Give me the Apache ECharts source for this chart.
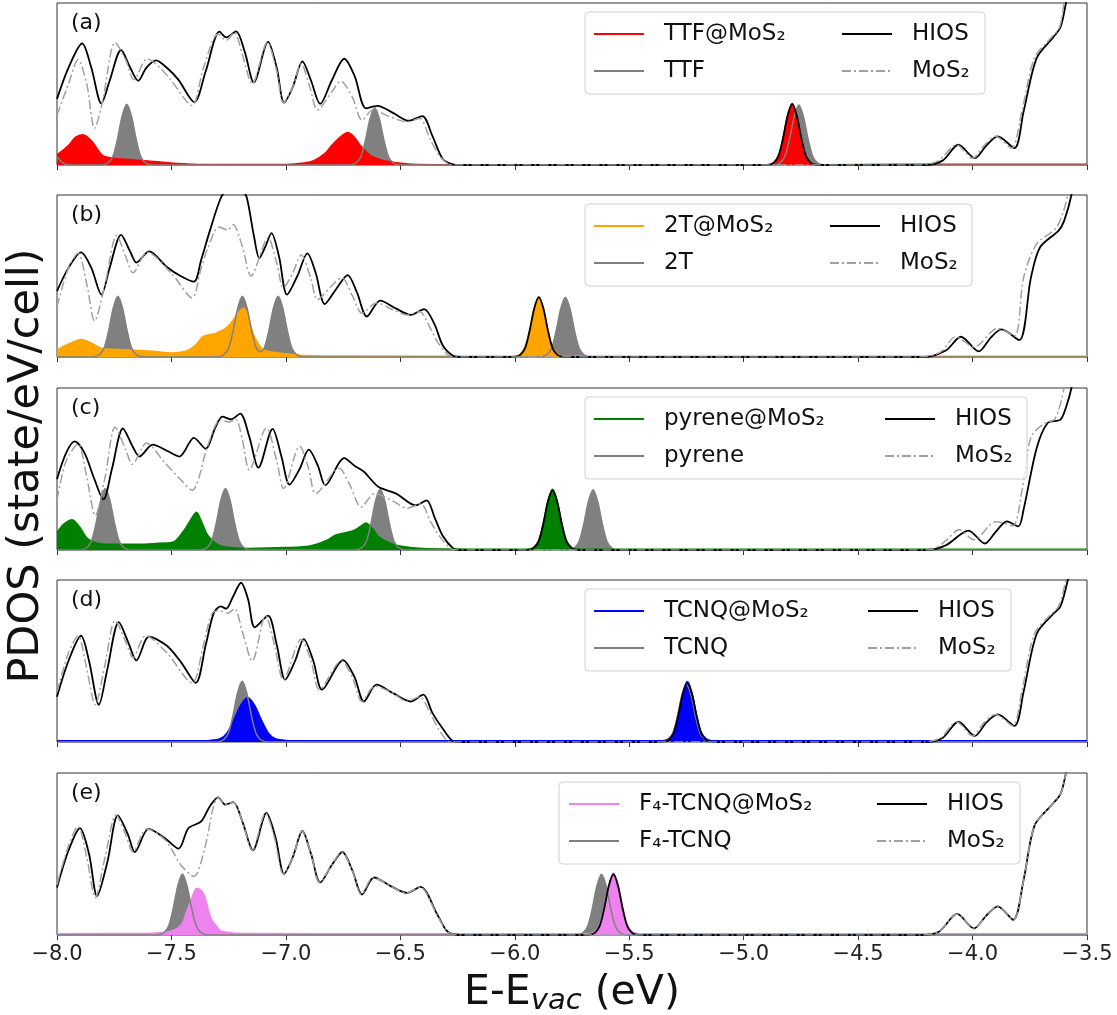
<!DOCTYPE html>
<html>
<head>
<meta charset="utf-8">
<script src="https://cdn.jsdelivr.net/npm/echarts@6/dist/echarts.min.js"></script>
<style>
html,body{margin:0;padding:0;background:#fff;}
#chart{width:1117px;height:1015px;}
</style>
</head>
<body>
<div id="chart"></div>
<script>
// ---------- labels ----------
const panelLabels = ['(a)', '(b)', '(c)', '(d)', '(e)'];
const molNames = ['TTF', '2T', 'pyrene', 'TCNQ', 'F\u2084-TCNQ'];
const hiosName = 'HIOS';
const mos2Name = 'MoS\u2082';
const xTickValues = [-8.0, -7.5, -7.0, -6.5, -6.0, -5.5, -5.0, -4.5, -4.0, -3.5];

// ---------- panel (a): TTF ----------
const hiosA = [[-8.00,40.8],[-7.95,60],[-7.89,75],[-7.85,60],[-7.806,38],[-7.77,52],[-7.72,71],[-7.68,60],[-7.645,52],[-7.61,60],[-7.567,64.6],[-7.52,60],[-7.47,52.7],[-7.40,38.8],[-7.35,58],[-7.29,82.3],[-7.26,78.8],[-7.218,82.5],[-7.18,70],[-7.14,51],[-7.078,76],[-7.04,60],[-7.008,38.5],[-6.97,48],[-6.928,64],[-6.89,52],[-6.85,37.7],[-6.80,52],[-6.745,65.6],[-6.70,55],[-6.65,35],[-6.60,36.5],[-6.53,32],[-6.463,27.3],[-6.404,30.2],[-6.36,18],[-6.315,3.75],[-6.275,0.6],[-6.24,0],[-4.92,0],[-4.888,0.2],[-4.868,1.5],[-4.848,5.6],[-4.828,16.5],[-4.808,30.4],[-4.788,37.8],[-4.768,30.4],[-4.748,16.5],[-4.728,5.6],[-4.708,1.5],[-4.688,0.2],[-4.65,0],[-4.21,0],[-4.131,2.7],[-4.062,12.5],[-3.99,4.2],[-3.94,12],[-3.89,17.7],[-3.817,10.4],[-3.777,33],[-3.72,66],[-3.648,78.8],[-3.616,85],[-3.592,100],[-3.55,130],[-3.5,170]];
const mos2A = [[-8.0,30.8],[-7.95,50],[-7.908,65],[-7.87,50],[-7.836,22.5],[-7.80,40],[-7.746,75.6],[-7.70,65],[-7.664,52.7],[-7.606,65.6],[-7.55,60],[-7.504,52.7],[-7.41,36.7],[-7.36,60],[-7.296,80.8],[-7.26,77],[-7.226,81.9],[-7.19,68],[-7.147,50],[-7.081,75.6],[-7.04,58],[-7.011,38.5],[-6.97,48],[-6.933,62.5],[-6.895,48],[-6.862,34],[-6.80,45],[-6.761,51.7],[-6.71,42],[-6.667,27.7],[-6.62,34],[-6.55,30],[-6.471,26.7],[-6.416,28.7],[-6.37,16],[-6.33,5.8],[-6.29,0.6],[-6.26,0],[-4.23,0],[-4.15,2.5],[-4.07,12.5],[-4.0,4.2],[-3.95,12],[-3.9,17.7],[-3.83,10.4],[-3.785,33],[-3.73,66],[-3.655,78.8],[-3.62,85],[-3.60,100],[-3.55,135],[-3.5,175]];
const hybA = [[-8.0,6.25],[-7.95,12],[-7.92,17],[-7.887,18.75],[-7.85,15],[-7.80,5.8],[-7.754,4.2],[-7.65,3],[-7.55,1.8],[-7.40,0.5],[-7.0,0.3],[-6.92,1.2],[-6.878,2.7],[-6.83,7],[-6.80,12],[-6.76,17.5],[-6.73,20],[-6.70,17],[-6.675,12],[-6.63,5.8],[-6.58,3],[-6.533,1.7],[-6.45,0.5],[-6.3,0.2],[-4.92,0.1],[-4.888,0.2],[-4.868,1.5],[-4.848,5.6],[-4.828,16.5],[-4.808,30.4],[-4.788,37.5],[-4.768,30.4],[-4.748,16.5],[-4.728,5.6],[-4.708,1.5],[-4.688,0.2],[-4.65,0.1],[-4.3,0.4],[-3.5,0.4]];
const molA = [[-8.0,5],[-7.98,2],[-7.96,0.3],[-7.93,0],[-7.815,0],[-7.795,0.2],[-7.775,1.5],[-7.755,5.6],[-7.735,16.5],[-7.715,30.4],[-7.695,37.5],[-7.675,30.4],[-7.655,16.5],[-7.635,5.6],[-7.615,1.5],[-7.595,0.2],[-7.575,0],[-6.732,0],[-6.712,0.2],[-6.692,1.4],[-6.672,5.3],[-6.652,15.6],[-6.632,28.7],[-6.612,35.4],[-6.592,28.7],[-6.572,15.6],[-6.552,5.3],[-6.532,1.4],[-6.512,0.2],[-6.492,0],[-4.879,0],[-4.859,0.2],[-4.839,1.5],[-4.819,5.6],[-4.799,16.3],[-4.779,30],[-4.759,37],[-4.739,30],[-4.719,16.3],[-4.699,5.6],[-4.679,1.5],[-4.659,0.2],[-4.639,0],[-3.5,0]];

// ---------- panel (b): 2T ----------
const hiosB = [[-8.0,40.6],[-7.95,55],[-7.895,64.6],[-7.85,55],[-7.806,38.5],[-7.77,55],[-7.72,75.4],[-7.68,65],[-7.653,58.3],[-7.598,65.2],[-7.52,55.6],[-7.46,50],[-7.402,46.5],[-7.37,60],[-7.332,78],[-7.285,98],[-7.254,104],[-7.22,106],[-7.19,103],[-7.17,98],[-7.14,75],[-7.116,61],[-7.09,68],[-7.063,76.5],[-7.03,62],[-6.995,38.5],[-6.95,50],[-6.906,64],[-6.87,52],[-6.83,32.7],[-6.78,42],[-6.73,50.6],[-6.69,40],[-6.646,25],[-6.588,34.8],[-6.52,30],[-6.455,26],[-6.396,29.6],[-6.35,20],[-6.315,7.3],[-6.268,0.6],[-6.24,0],[-6.02,0],[-5.995,0.2],[-5.975,1.5],[-5.955,5.5],[-5.935,16.2],[-5.915,29.9],[-5.895,36.9],[-5.875,29.9],[-5.855,16.2],[-5.835,5.5],[-5.815,1.5],[-5.795,0.2],[-5.77,0],[-4.21,0],[-4.115,4.2],[-4.051,12.5],[-3.973,3.5],[-3.92,12],[-3.874,17],[-3.796,10.4],[-3.745,49],[-3.705,67.7],[-3.624,78],[-3.60,84],[-3.568,100],[-3.53,130],[-3.5,155]];
const mos2B = [[-8.0,31],[-7.95,55],[-7.908,64],[-7.87,45],[-7.836,22.3],[-7.79,45],[-7.739,75],[-7.70,62],[-7.668,52],[-7.606,64.6],[-7.496,51],[-7.41,36.5],[-7.37,55],[-7.34,67.7],[-7.293,80.2],[-7.254,78.5],[-7.23,81.7],[-7.19,68],[-7.152,50],[-7.078,73.5],[-7.04,58],[-7.011,42.7],[-6.97,52],[-6.933,63],[-6.89,48],[-6.862,35.4],[-6.80,44],[-6.756,49],[-6.71,38],[-6.667,27],[-6.604,33.3],[-6.53,29],[-6.471,26],[-6.416,28],[-6.37,18],[-6.338,9.4],[-6.29,1],[-6.26,0],[-4.23,0],[-4.14,3],[-4.074,12.5],[-3.994,6.2],[-3.89,17.7],[-3.817,13],[-3.777,49],[-3.72,69.8],[-3.632,80.2],[-3.584,100],[-3.55,130],[-3.5,160]];
const hybB = [[-8.0,4.2],[-7.95,8],[-7.892,10.8],[-7.85,8.5],[-7.80,5.2],[-7.66,4.2],[-7.58,3.5],[-7.504,2.5],[-7.46,3],[-7.426,4.2],[-7.39,8],[-7.363,12.5],[-7.308,14.6],[-7.27,17],[-7.24,21],[-7.21,27],[-7.186,30.2],[-7.165,25],[-7.144,14.6],[-7.12,8],[-7.097,4.2],[-7.003,2],[-6.925,1],[-6.7,0.6],[-6.1,0.5],[-6.02,0.5],[-5.995,0.7],[-5.975,2],[-5.955,6],[-5.935,16.7],[-5.915,30.4],[-5.895,37.4],[-5.875,30.4],[-5.855,16.7],[-5.835,6],[-5.815,2],[-5.795,0.7],[-5.77,0.5],[-3.5,0.5]];
const molB = [[-8.0,0],[-7.854,0],[-7.834,0.2],[-7.814,1.5],[-7.794,5.6],[-7.774,16.5],[-7.754,30.4],[-7.734,37.5],[-7.714,30.4],[-7.694,16.5],[-7.674,5.6],[-7.654,1.5],[-7.634,0.2],[-7.614,0],[-7.31,0],[-7.29,0.2],[-7.27,1.5],[-7.25,5.6],[-7.23,16.5],[-7.21,30.4],[-7.19,37.5],[-7.17,30.4],[-7.15,16.5],[-7.13,5.8],[-7.11,3.2],[-7.094,5.8],[-7.074,16.5],[-7.054,30.4],[-7.034,37.5],[-7.014,30.4],[-6.994,16.5],[-6.974,5.6],[-6.954,1.5],[-6.934,0.2],[-6.914,0],[-5.899,0],[-5.879,0.2],[-5.859,1.5],[-5.839,5.5],[-5.819,16.2],[-5.799,29.9],[-5.779,36.9],[-5.759,29.9],[-5.739,16.2],[-5.719,5.5],[-5.699,1.5],[-5.679,0.2],[-5.659,0],[-3.5,0]];

// ---------- panel (c): pyrene ----------
const hiosC = [[-8.0,43.75],[-7.96,60],[-7.923,67],[-7.88,60],[-7.84,45],[-7.797,31.25],[-7.76,50],[-7.712,75],[-7.67,64],[-7.64,57.7],[-7.582,65],[-7.52,61.25],[-7.465,57.7],[-7.402,69.2],[-7.35,62.5],[-7.31,75],[-7.277,82.3],[-7.24,80.6],[-7.2,84.2],[-7.16,70],[-7.12,50.8],[-7.058,74.8],[-7.02,58],[-6.984,40.4],[-6.94,50],[-6.90,61.9],[-6.86,52],[-6.828,40],[-6.745,56.7],[-6.70,52],[-6.659,48.3],[-6.596,39],[-6.518,34.8],[-6.432,27.5],[-6.385,30.6],[-6.35,20],[-6.315,8.75],[-6.268,0.8],[-6.24,0],[-5.96,0],[-5.935,0.2],[-5.915,1.5],[-5.895,5.6],[-5.875,16.3],[-5.855,30],[-5.835,37],[-5.815,30],[-5.795,16.3],[-5.775,5.6],[-5.755,1.5],[-5.735,0.2],[-5.71,0],[-4.2,0],[-4.115,3],[-4.018,12],[-3.946,4],[-3.90,11],[-3.85,17.7],[-3.80,14.6],[-3.777,25],[-3.72,62.8],[-3.672,78.4],[-3.616,80.5],[-3.592,88],[-3.568,100],[-3.53,130],[-3.5,150]];
const mos2C = [[-8.0,31],[-7.96,55],[-7.908,65.4],[-7.87,45],[-7.833,21.25],[-7.79,45],[-7.746,75.8],[-7.70,62],[-7.671,52.9],[-7.609,66],[-7.53,54],[-7.47,45],[-7.41,36.9],[-7.34,65],[-7.285,80.6],[-7.25,79],[-7.219,80.6],[-7.19,68],[-7.16,49.4],[-7.085,75.4],[-7.04,55],[-7.01,37.9],[-6.94,64],[-6.90,50],[-6.87,34.8],[-6.768,50.4],[-6.72,40],[-6.671,26.5],[-6.612,34.8],[-6.53,30],[-6.471,25.8],[-6.41,28.5],[-6.37,18],[-6.33,8.75],[-6.28,0.8],[-6.25,0],[-4.2,0],[-4.17,0.5],[-4.115,6],[-4.059,12.5],[-3.994,6.3],[-3.898,17.5],[-3.825,15],[-3.785,36],[-3.745,69.5],[-3.69,77.8],[-3.64,81],[-3.60,100],[-3.56,130],[-3.5,160]];
const hybC = [[-8.0,10.8],[-7.97,16],[-7.934,18.75],[-7.90,14],[-7.864,6.7],[-7.786,3.5],[-7.63,3.5],[-7.55,4.2],[-7.488,5.2],[-7.441,12.9],[-7.41,20],[-7.391,23.3],[-7.37,18],[-7.34,8.75],[-7.285,2.5],[-7.16,1],[-7.0,1.5],[-6.894,2.5],[-6.82,6],[-6.784,9.2],[-6.706,11.9],[-6.67,15],[-6.651,16.7],[-6.62,13],[-6.596,8.3],[-6.518,2.9],[-6.38,0.8],[-6.0,0.5],[-5.96,0.5],[-5.935,0.7],[-5.915,2],[-5.895,6],[-5.875,16.8],[-5.855,30.5],[-5.835,37.5],[-5.815,30.5],[-5.795,16.8],[-5.775,6],[-5.755,2],[-5.735,0.7],[-5.71,0.5],[-3.5,0.5]];
const molC = [[-8.0,0],[-7.909,0],[-7.889,0.2],[-7.869,1.5],[-7.849,5.7],[-7.829,16.7],[-7.809,30.7],[-7.789,37.9],[-7.769,30.7],[-7.749,16.7],[-7.729,5.7],[-7.709,1.5],[-7.689,0.2],[-7.669,0],[-7.384,0],[-7.364,0.2],[-7.344,1.5],[-7.324,5.7],[-7.304,16.7],[-7.284,30.7],[-7.264,37.9],[-7.244,30.7],[-7.224,16.7],[-7.204,5.7],[-7.184,1.5],[-7.164,0.2],[-7.144,0],[-6.708,0],[-6.688,0.2],[-6.668,1.5],[-6.648,5.6],[-6.628,16.5],[-6.608,30.4],[-6.588,37.5],[-6.568,30.4],[-6.548,16.5],[-6.528,5.6],[-6.508,1.5],[-6.488,0.2],[-6.468,0],[-5.778,0],[-5.758,0.2],[-5.738,1.5],[-5.718,5.6],[-5.698,16.4],[-5.678,30.1],[-5.658,37.2],[-5.638,30.1],[-5.618,16.4],[-5.598,5.6],[-5.578,1.5],[-5.558,0.2],[-5.538,0],[-3.5,0]];

// ---------- panel (d): TCNQ ----------
const hiosD = [[-8.0,28],[-7.95,50],[-7.895,65.6],[-7.86,50],[-7.817,23],[-7.78,45],[-7.73,74],[-7.69,62],[-7.653,50.4],[-7.598,65],[-7.52,59.4],[-7.457,49],[-7.394,36.5],[-7.35,60],[-7.316,79.2],[-7.285,83.75],[-7.261,82.3],[-7.23,90],[-7.196,98.3],[-7.165,88],[-7.136,70.8],[-7.078,78],[-7.04,60],[-7.003,38.5],[-6.96,50],[-6.922,63.5],[-6.88,50],[-6.842,32.3],[-6.75,50.6],[-6.70,40],[-6.659,25],[-6.604,35.4],[-6.53,30],[-6.455,25],[-6.40,29.2],[-6.36,18],[-6.315,8.3],[-6.268,0.4],[-6.24,0],[-5.37,0],[-5.346,0.2],[-5.326,1.5],[-5.306,5.5],[-5.286,16.1],[-5.266,29.6],[-5.246,36.5],[-5.226,29.6],[-5.206,16.1],[-5.186,5.5],[-5.166,1.5],[-5.146,0.2],[-5.12,0],[-4.21,0],[-4.131,2.5],[-4.062,12.5],[-3.99,3.75],[-3.94,12],[-3.89,17],[-3.817,10],[-3.777,31],[-3.72,66.7],[-3.648,79],[-3.616,83.75],[-3.584,100],[-3.55,125],[-3.5,160]];
const mos2D = [[-8.0,31],[-7.95,55],[-7.908,65.6],[-7.87,45],[-7.833,23],[-7.79,48],[-7.746,75],[-7.70,62],[-7.668,52],[-7.613,65.6],[-7.52,55],[-7.41,36.5],[-7.36,60],[-7.324,79],[-7.293,81],[-7.254,79.5],[-7.225,82.3],[-7.19,68],[-7.147,50],[-7.089,78],[-7.05,60],[-7.011,38.5],[-6.933,63.5],[-6.89,50],[-6.854,32.3],[-6.757,50],[-6.71,40],[-6.667,25],[-6.612,34.4],[-6.53,30],[-6.471,25],[-6.416,28],[-6.37,18],[-6.33,7.3],[-6.28,0],[-4.22,0],[-4.14,2.5],[-4.07,12.5],[-4.0,3.75],[-3.95,12],[-3.90,17],[-3.825,10],[-3.785,31],[-3.73,66.7],[-3.656,79],[-3.624,83.75],[-3.592,100],[-3.55,130],[-3.5,165]];
const hybD = [[-8.0,0.8],[-7.40,0.8],[-7.33,1],[-7.287,2],[-7.257,5.6],[-7.224,14.5],[-7.197,22.8],[-7.167,27.5],[-7.137,22.8],[-7.11,14.5],[-7.077,5.6],[-7.047,2],[-7.0,1],[-6.9,0.8],[-5.37,0.8],[-5.346,1],[-5.326,2.3],[-5.306,6.3],[-5.286,16.9],[-5.266,30.4],[-5.246,37.3],[-5.226,30.4],[-5.206,16.9],[-5.186,6.3],[-5.166,2.3],[-5.146,1],[-5.12,0.8],[-3.5,0.8]];
const molD = [[-8.0,0],[-7.311,0],[-7.291,0.2],[-7.271,1.5],[-7.251,5.6],[-7.231,16.5],[-7.211,30.4],[-7.191,37.5],[-7.171,30.4],[-7.151,16.5],[-7.131,5.6],[-7.111,1.5],[-7.091,0.2],[-7.071,0],[-5.37,0],[-5.35,0.2],[-5.33,1.4],[-5.31,5.3],[-5.29,15.6],[-5.27,28.8],[-5.25,35.5],[-5.23,28.8],[-5.21,15.6],[-5.19,5.3],[-5.17,1.4],[-5.15,0.2],[-5.13,0],[-3.5,0]];

// ---------- panel (e): F4-TCNQ ----------
const hiosE = [[-8.0,29.3],[-7.95,52],[-7.90,65.9],[-7.86,50],[-7.825,24],[-7.78,45],[-7.734,73.8],[-7.69,62],[-7.66,51.25],[-7.60,65.5],[-7.527,59.6],[-7.469,53.3],[-7.426,65.9],[-7.371,70],[-7.332,79.5],[-7.296,85],[-7.265,80.5],[-7.23,82],[-7.19,70],[-7.144,52.3],[-7.085,75.3],[-7.045,60],[-7.008,37.7],[-6.97,48],[-6.928,64.2],[-6.89,50],[-6.85,32.4],[-6.80,43],[-6.753,51.25],[-6.71,40],[-6.667,25],[-6.615,35.5],[-6.54,30],[-6.471,26],[-6.412,29.7],[-6.338,12.5],[-6.30,3],[-6.27,0.5],[-6.24,0],[-5.69,0],[-5.669,0.2],[-5.649,1.5],[-5.629,5.6],[-5.609,16.5],[-5.589,30.4],[-5.569,37.5],[-5.549,30.4],[-5.529,16.5],[-5.509,5.6],[-5.489,1.5],[-5.469,0.2],[-5.445,0],[-4.22,0],[-4.147,2],[-4.067,13],[-3.994,4],[-3.94,12],[-3.89,17.7],[-3.822,9.4],[-3.777,34],[-3.729,67.7],[-3.656,80],[-3.616,87],[-3.592,100],[-3.55,130],[-3.5,160]];
const mos2E = [[-8.0,31],[-7.95,55],[-7.908,67],[-7.87,48],[-7.833,23],[-7.79,48],[-7.742,74],[-7.70,62],[-7.668,51.25],[-7.608,65.5],[-7.527,58.6],[-7.457,42.9],[-7.402,36.2],[-7.355,53.3],[-7.316,79.5],[-7.296,85],[-7.265,80.5],[-7.23,82],[-7.19,70],[-7.147,52.3],[-7.089,75.3],[-7.05,60],[-7.011,37.7],[-6.97,48],[-6.93,64.2],[-6.89,50],[-6.853,32.4],[-6.80,43],[-6.756,51.25],[-6.71,40],[-6.67,25],[-6.618,35.5],[-6.54,30],[-6.474,26],[-6.415,29.7],[-6.34,12.5],[-6.30,3],[-6.27,0.5],[-6.24,0],[-4.22,0],[-4.147,2],[-4.067,13],[-3.994,4],[-3.94,12],[-3.89,17.7],[-3.822,9.4],[-3.777,34],[-3.729,67.7],[-3.656,80],[-3.616,87],[-3.592,100],[-3.55,130],[-3.5,160]];
const hybE = [[-8.0,0.8],[-7.6,1],[-7.535,1.5],[-7.50,2.5],[-7.473,4.2],[-7.45,8],[-7.433,14.6],[-7.41,23],[-7.391,28.7],[-7.375,28],[-7.355,24],[-7.34,16],[-7.324,9.4],[-7.30,5],[-7.285,2.5],[-7.2,1],[-6.5,0.8],[-5.69,0.8],[-5.669,1],[-5.649,2.3],[-5.629,6.4],[-5.609,17.3],[-5.589,31.2],[-5.569,38.3],[-5.549,31.2],[-5.529,17.3],[-5.509,6.4],[-5.489,2.3],[-5.469,1],[-5.445,0.8],[-3.5,0.8]];
const molE = [[-8.0,0],[-7.572,0],[-7.552,0.2],[-7.532,1.5],[-7.512,5.7],[-7.492,16.6],[-7.472,30.5],[-7.452,37.7],[-7.432,30.5],[-7.412,16.6],[-7.392,5.7],[-7.372,1.5],[-7.352,0.2],[-7.332,0],[-5.741,0],[-5.721,0.2],[-5.701,1.5],[-5.681,5.6],[-5.661,16.5],[-5.641,30.4],[-5.621,37.5],[-5.601,30.4],[-5.581,16.5],[-5.561,5.6],[-5.541,1.5],[-5.521,0.2],[-5.501,0],[-3.5,0]];

// ---------- assemble ----------
const hiosData = [hiosA, hiosB, hiosC, hiosD, hiosE];
const mos2Data = [mos2A, mos2B, mos2C, mos2D, mos2E];
const hybData = [hybA, hybB, hybC, hybD, hybE];
const molData = [molA, molB, molC, molD, molE];

const hybColors = ['#ff0000', '#ffa500', '#008000', '#0000ff', '#ee82ee'];
const tops = [3, 195, 388, 580, 773];
const PH = 162;
const FONT = 'DejaVu Sans';
// legend layout per panel: [boxLeft, boxRight, col1X, col2X]
const legendGeo = [[585,985,593,841],[585,972,593,829],[585,1027,593,884],[585,1011,593,867],[559,1020,568,876]];

const grids = [], xAxes = [], yAxes = [], series = [], legends = [], graphics = [];
const fmt = v => (v < 0 ? '\u2212' : '') + Math.abs(v).toFixed(1);

for (let i = 0; i < 5; i++) {
  grids.push({left: 57, right: 30, top: tops[i], height: PH, show: true, borderColor: '#333', borderWidth: 1, backgroundColor: 'transparent'});
  xAxes.push({
    gridIndex: i, type: 'value', min: xTickValues[0], max: xTickValues[xTickValues.length-1], interval: 0.5,
    axisLine: {show: false},
    axisTick: {show: true, length: 5, lineStyle: {color: '#333', width: 1}},
    axisLabel: {show: i === 4, fontSize: 21, fontFamily: FONT, color: '#222', margin: 9, formatter: fmt},
    splitLine: {show: false}
  });
  yAxes.push({gridIndex: i, type: 'value', min: 0, max: 100, show: false});
  const hybName = molNames[i] + '@' + mos2Name;
  const common = {type: 'line', xAxisIndex: i, yAxisIndex: i, smooth: 0.3, symbol: 'none', showSymbol: false, animation: false, clip: true};
  series.push(Object.assign({}, common, {name: molNames[i] + ' fill', data: molData[i], silent: true,
    lineStyle: {width: 0, opacity: 0}, itemStyle: {color: '#808080'}, areaStyle: {color: '#808080', opacity: 1}}));
  series.push(Object.assign({}, common, {name: hybName, data: hybData[i],
    lineStyle: {width: 1.5, color: hybColors[i]}, itemStyle: {color: hybColors[i]}, areaStyle: {color: hybColors[i], opacity: 1}}));
  series.push(Object.assign({}, common, {name: molNames[i], data: molData[i],
    lineStyle: {width: 1.5, color: '#808080'}, itemStyle: {color: '#808080'}}));
  series.push(Object.assign({}, common, {name: hiosName, data: hiosData[i],
    lineStyle: {width: 1.8, color: '#000'}, itemStyle: {color: '#000'}}));
  series.push(Object.assign({}, common, {name: mos2Name, data: mos2Data[i],
    lineStyle: {width: 1.5, color: '#a0a0a0', type: [9, 3, 2, 3]}, itemStyle: {color: '#a0a0a0'}}));

  const g = legendGeo[i];
  const legCommon = {orient: 'vertical', top: tops[i] + 18, padding: 0, itemWidth: 50, itemHeight: 14, itemGap: 11, z: 20,
    selectedMode: false,
    itemStyle: {opacity: 0, borderWidth: 0},
    textStyle: {fontSize: 23, fontFamily: FONT, color: '#111', lineHeight: 26, padding: [0, 0, 0, 15]}};
  legends.push(Object.assign({}, legCommon, {left: g[2], data: [hybName, molNames[i]]}));
  legends.push(Object.assign({}, legCommon, {left: g[3], data: [hiosName, mos2Name]}));

  graphics.push({type: 'rect', z: 10, shape: {x: g[0], y: tops[i] + 9, width: g[1] - g[0], height: 82, r: 4},
    style: {fill: 'rgba(255,255,255,0.8)', stroke: '#d0d0d0', lineWidth: 1}});
  graphics.push({type: 'text', z: 10, x: 71, y: tops[i] + 20,
    style: {text: panelLabels[i], fontSize: 22, fontFamily: FONT, fill: '#111', verticalAlign: 'middle'}});
}

graphics.push({type: 'text', z: 10, x: 27, y: 466, rotation: Math.PI / 2,
  style: {text: 'PDOS (state/eV/cell)', fontSize: 43, fontFamily: FONT, fill: '#111', align: 'center', verticalAlign: 'middle'}});
graphics.push({type: 'text', z: 10, x: 572, y: 993,
  style: {text: '{m|E-E}{s|vac}{m| (eV)}', align: 'center', verticalAlign: 'middle',
    rich: {m: {fontSize: 41, fontFamily: FONT, lineHeight: 46, fill: '#111'},
           s: {fontSize: 29, fontFamily: FONT, fontStyle: 'italic', lineHeight: 22, verticalAlign: 'bottom', fill: '#111'}}}});

const chart = echarts.init(document.getElementById('chart'), null, {renderer: 'canvas'});
chart.setOption({
  animation: false,
  backgroundColor: '#fff',
  textStyle: {fontFamily: FONT},
  grid: grids, xAxis: xAxes, yAxis: yAxes, series: series, legend: legends,
  graphic: {elements: graphics}
});
</script>
</body>
</html>
